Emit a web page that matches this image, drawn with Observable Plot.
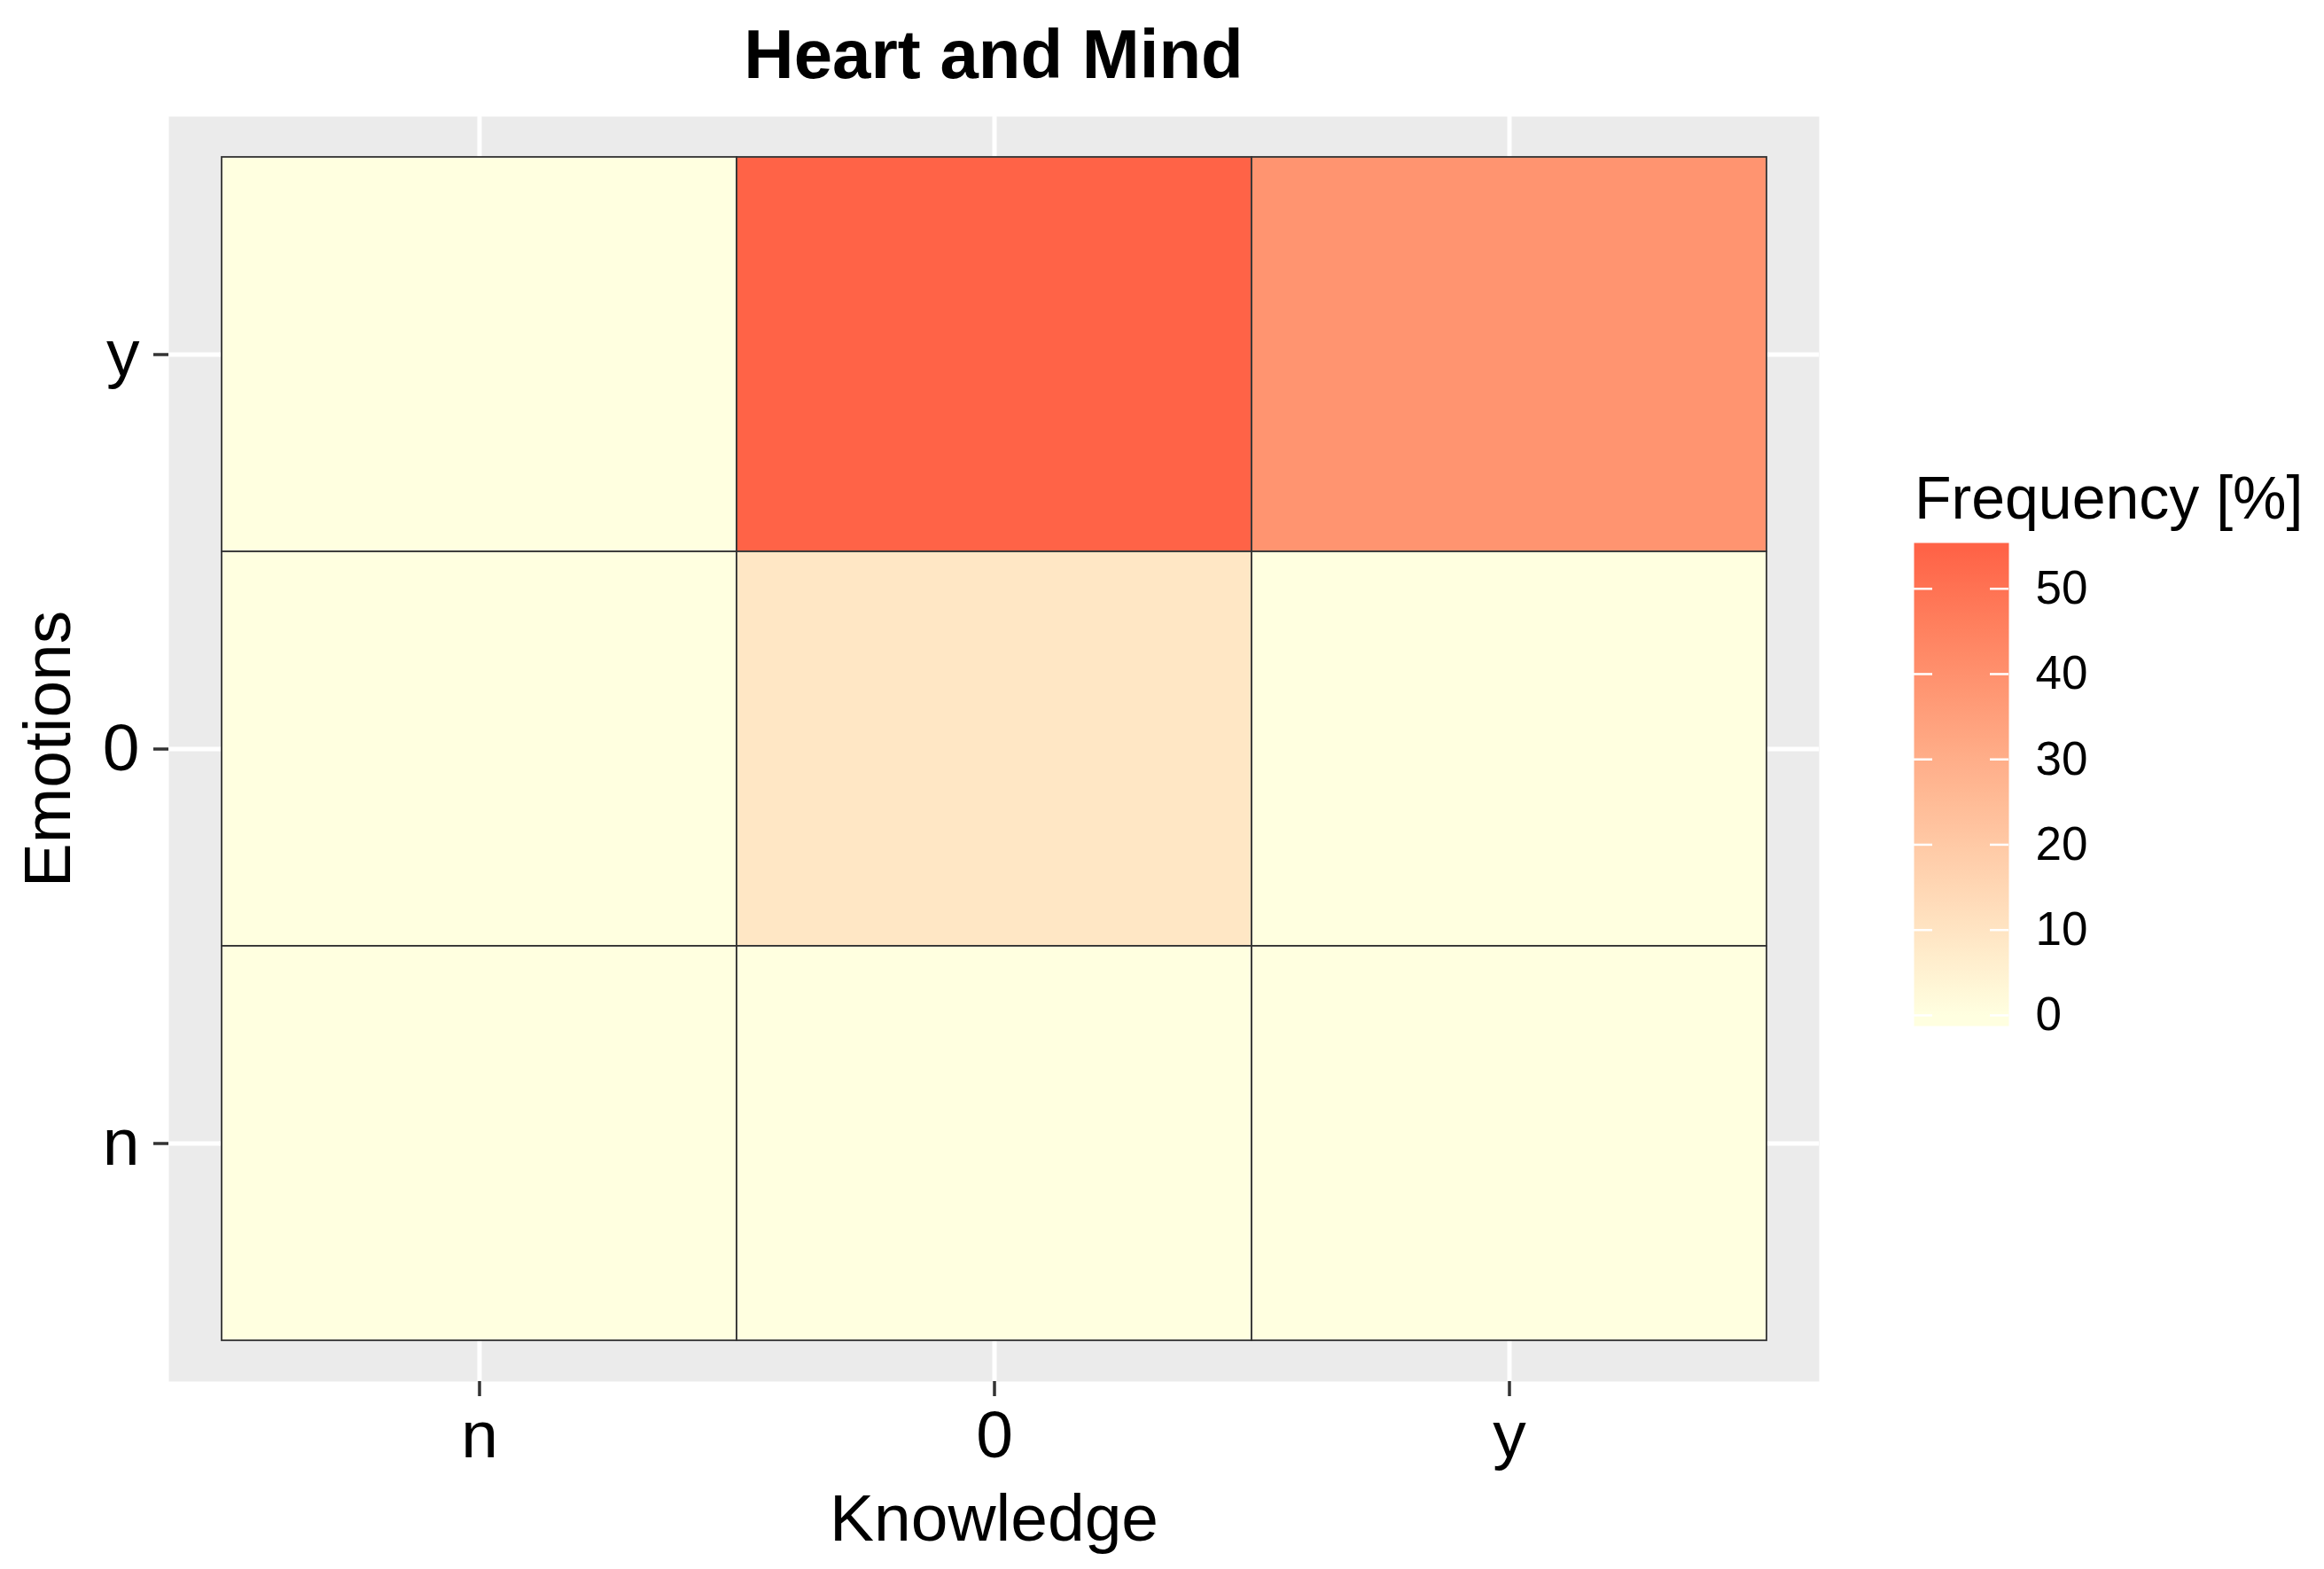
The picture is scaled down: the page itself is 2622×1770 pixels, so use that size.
<!DOCTYPE html>
<html>
<head>
<meta charset="utf-8">
<script src="https://cdn.jsdelivr.net/npm/d3@7"></script>
<script src="https://cdn.jsdelivr.net/npm/@observablehq/plot@0.6"></script>
<style>
  html, body { margin: 0; padding: 0; background: #fff; }
  #wrap { position: relative; width: 2622px; height: 1770px; overflow: hidden; font-family: "Liberation Sans", Arial, Helvetica, sans-serif; }
  #title { position: absolute; left: 0; width: 2242px; top: 22px; text-align: center; font-weight: bold; font-size: 78px; line-height: 78px; color: #000; }
  #chart { position: absolute; left: 0; top: 131px; }
  #legendTitle { position: absolute; left: 2160px; top: 527px; font-size: 68px; line-height: 68px; color: #000; white-space: nowrap; }
  #legend { position: absolute; left: 2159px; top: 592px; }
</style>
</head>
<body>
<div id="wrap">
  <div id="title">Heart and Mind</div>
  <div id="chart"></div>
  <div id="legendTitle">Frequency [%]</div>
  <div id="legend"></div>
</div>
<script>
// ---- data ----
const knowledgeCategories = ["n", "0", "y"];
const emotionCategories = ["y", "0", "n"]; // top to bottom
const cellKnowledge = ["n", "0", "y", "n", "0", "y", "n", "0", "y"];
const cellEmotions  = ["y", "y", "y", "0", "0", "0", "n", "n", "n"];
const frequency     = [0, 54.5, 39, 0, 9.1, 0, 0, 0, 0];
const legendTicks = [0, 10, 20, 30, 40, 50];

const xLabel = "Knowledge";
const yLabel = "Emotions";

const data = cellKnowledge.map((k, i) => ({knowledge: k, emotions: cellEmotions[i], frequency: frequency[i]}));
const maxFreq = d3.max(frequency);

const font = "'Liberation Sans', Arial, Helvetica, sans-serif";

const chart = Plot.plot({
  width: 2622,
  height: 1639,
  marginLeft: 190,
  marginRight: 570,
  marginTop: 0,
  marginBottom: 212,
  style: {fontFamily: font, fontSize: "75px", color: "#000", background: "transparent"},
  x: {type: "band", domain: knowledgeCategories, paddingInner: 0, paddingOuter: 0.1, label: null},
  y: {type: "band", domain: emotionCategories, paddingInner: 0, paddingOuter: 0.1, label: null},
  color: {type: "linear", domain: [0, maxFreq], range: ["#FFFFE0", "#FF6347"], interpolate: d3.interpolateLab},
  marks: [
    Plot.frame({fill: "#EBEBEB", stroke: null}),
    Plot.gridX({stroke: "white", strokeOpacity: 1, strokeWidth: 5}),
    Plot.gridY({stroke: "white", strokeOpacity: 1, strokeWidth: 5}),
    Plot.cell(data, {x: "knowledge", y: "emotions", fill: "frequency", stroke: "#333", strokeWidth: 1.8, inset: 0}),
    Plot.axisX({tickSize: 17, tickPadding: 15, fontSize: 75, label: null, stroke: "#333", strokeWidth: 3.5, fill: "#000"}),
    Plot.axisY({tickSize: 17, tickPadding: 16, fontSize: 75, label: null, stroke: "#333", strokeWidth: 3.5, fill: "#000"}),
    Plot.text([xLabel], {text: d => d, frameAnchor: "bottom", lineAnchor: "bottom", dy: 179, fontSize: 75, fill: "#000"}),
    Plot.text([yLabel], {text: d => d, frameAnchor: "left", textAnchor: "middle", lineAnchor: "bottom", rotate: -90, dx: -112, fontSize: 75, fill: "#000"})
  ]
});
document.getElementById("chart").appendChild(chart);

// ---- legend (vertical colour bar) ----
const colorScale = chart.scale("color");
const legend = Plot.plot({
  width: 107 + 140,
  height: 545 + 40,
  marginLeft: 0,
  marginRight: 140,
  marginTop: 20,
  marginBottom: 20,
  style: {fontFamily: font, fontSize: "53px", color: "#000", background: "transparent", overflow: "visible"},
  y: {domain: [-0.023 * maxFreq, maxFreq * 1.016], label: null},
  marks: [
    Plot.frame({fill: "url(#freqgrad)", stroke: null}),
    Plot.tickY(legendTicks, {y: d => d, stroke: "white", strokeWidth: 2.5, insetRight: 86}),
    Plot.tickY(legendTicks, {y: d => d, stroke: "white", strokeWidth: 2.5, insetLeft: 86}),
    Plot.axisY(legendTicks, {anchor: "right", tickSize: 0, tickPadding: 30, fontSize: 53, label: null, fill: "#000"})
  ]
});
const legendY = legend.scale("y");
const [d0, d1] = legendY.domain;
const grad = d3.select(legend).insert("defs", ":first-child")
  .append("linearGradient").attr("id", "freqgrad")
  .attr("x1", 0).attr("y1", 1).attr("x2", 0).attr("y2", 0);
for (let i = 0; i <= 40; i++) {
  const v = maxFreq * i / 40;
  grad.append("stop")
    .attr("offset", (v - d0) / (d1 - d0))
    .attr("stop-color", colorScale.apply(v));
}
document.getElementById("legend").appendChild(legend);
</script>
</body>
</html>
